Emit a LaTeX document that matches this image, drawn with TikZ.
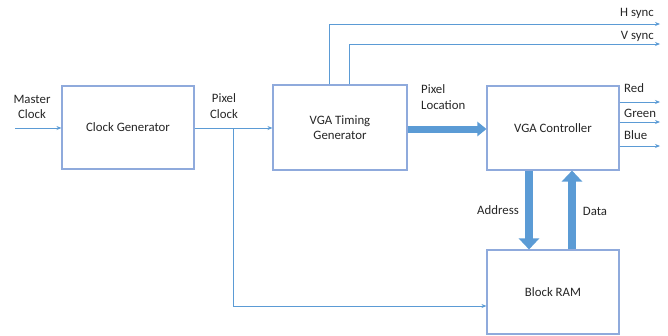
\documentclass[tikz,border=0pt]{standalone}
\usepackage{fontspec}
\setmainfont{Carlito}
\usetikzlibrary{arrows.meta}
\definecolor{wire}{HTML}{5B9BD5}
\definecolor{boxline}{HTML}{8FAADC}
\definecolor{txt}{HTML}{262626}
\begin{document}
\begin{tikzpicture}[x=1pt,y=-1pt,
  font=\fontsize{12.8}{15.5}\selectfont, text=txt,
  block/.style={draw=boxline, line width=1.1pt, fill=white, inner sep=0pt, align=center},
  sig/.style={draw=wire, line width=0.8pt, -{Stealth[length=5pt,width=4pt]}},
  bus/.style={draw=wire, line width=8pt, -{Triangle[length=11pt,width=20pt]}},
  lbl/.style={inner sep=0pt, align=center}]
\useasboundingbox (0,0) rectangle (668,335);

% blocks
\node[block, minimum width=132pt, minimum height=83pt] (cg) at (128,127.5) {Clock Generator};
\node[block, minimum width=134pt, minimum height=85pt] (tg) at (340,127.5) {VGA Timing\\Generator};
\node[block, minimum width=132pt, minimum height=84pt] (vc) at (553,128) {VGA Controller};
\node[block, minimum width=132pt, minimum height=84pt] (ram) at (553,292) {Block RAM};

% free ends of the signal wires
\coordinate (mcin) at (15,128);
\coordinate (tap) at (233,128);
\coordinate (tapdn) at (233,306);
\coordinate (hs) at (660,24);
\coordinate (vs) at (660,44);
\coordinate (ro) at (660,102);
\coordinate (go) at (660,122);
\coordinate (bo) at (660,146);

% clock path
\draw[sig] (mcin) -- (cg.west |- mcin);
\draw[sig] (cg.east |- tap) -- (tg.west |- tap);
\draw[sig] (tap) -- (tapdn) -- (ram.west |- tapdn);

% sync outputs
\draw[sig] (tg.north -| 329,0) -- (329,24) -- (hs);
\draw[sig] (tg.north -| 349,0) -- (349,44) -- (vs);

% colour outputs
\draw[sig] (vc.east |- ro) -- (ro);
\draw[sig] (vc.east |- go) -- (go);
\draw[sig] (vc.east |- bo) -- (bo);

% buses
\draw[draw=wire, line width=7pt, -{Triangle[length=9pt,width=14pt]}] (tg.east |- 0,129) -- (vc.west |- 0,129);
\draw[bus] (vc.south -| 529,0) -- (ram.north -| 529,0);
\draw[bus] (ram.north -| 572,0) -- (vc.south -| 572,0);

% labels
\node[lbl] (lmc) at (32,107) {Master\\Clock};
\node[lbl] (lpc) at (224,106) {Pixel\\Clock};
\node[lbl, anchor=east] (lhs) at (654,13) {H sync};
\node[lbl, anchor=east] (lvs) at (654,36) {V sync};
\node[lbl, align=left, anchor=west] (lpl) at (421,97) {Pixel\\Location};
\node[lbl, anchor=west] (lr) at (624,88) {Red};
\node[lbl, anchor=west] (lg) at (624,113) {Green};
\node[lbl, anchor=west] (lb) at (624,135) {Blue};
\node[lbl] (lad) at (498,210) {Address};
\node[lbl] (lda) at (595,211) {Data};
\end{tikzpicture}
\end{document}
